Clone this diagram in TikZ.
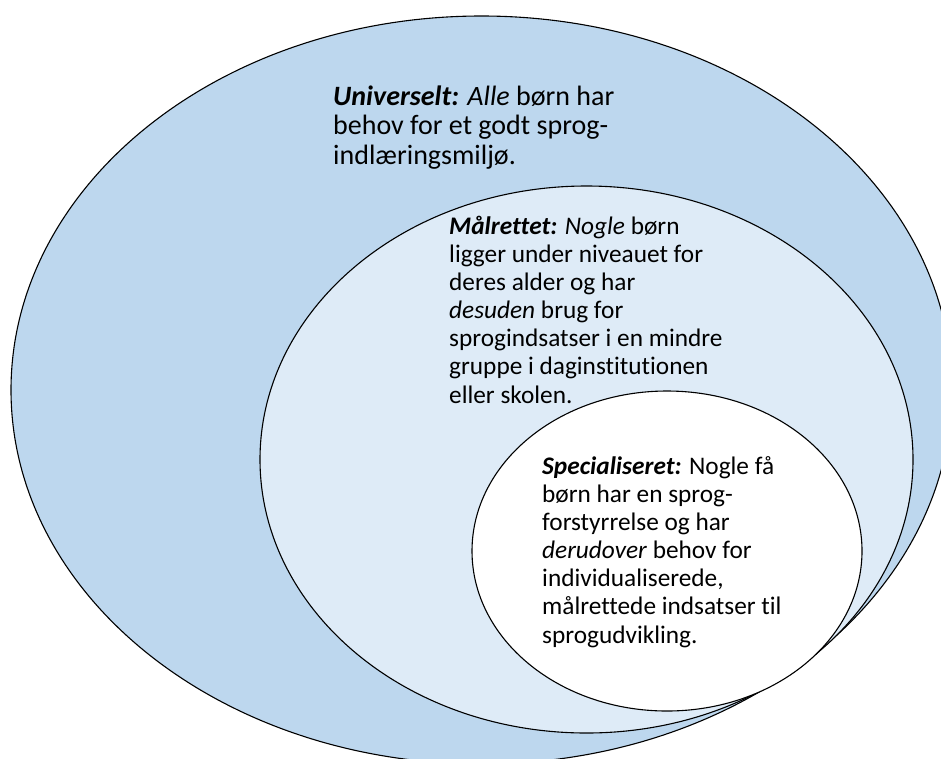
\documentclass[tikz,border=0pt]{standalone}
\usepackage{fontspec}
\setmainfont{Carlito}[Ligatures={TeX,NoCommon}]
\definecolor{outerblue}{RGB}{189, 215, 238}
\definecolor{midblue}{RGB}{222, 235, 247}
\usepackage{tikz}
\usetikzlibrary{positioning}

\begin{document}
\begin{tikzpicture}[x=1pt, y=-1pt,
    ring/.style={draw=black, line width=1.1pt},
    levtext/.style={anchor=base west, inner sep=0pt, align=left, font=\fontsize{25.3}{28.1}\selectfont}]
  % Frame
  \useasboundingbox (0, 0) rectangle (941, 758);
  \clip (0, 0) rectangle (941, 758);

  % Universal level
  \filldraw[ring, fill=outerblue] (481.5, 390) ellipse [x radius=470.5pt, y radius=374pt];
  % Targeted level
  \filldraw[ring, fill=midblue] (586.5, 459.5) ellipse [x radius=326.5pt, y radius=273.5pt];
  % Specialised level
  \filldraw[ring, fill=white] (667, 551) ellipse [x radius=195pt, y radius=160pt];

  % Texts (placed by the baseline of their last line)
  \node[levtext, font=\fontsize{28}{29.5}\selectfont] (univ) at (333, 164) {
    \textbf{\textit{Universelt:}} \textit{Alle} børn har\\
    behov for et godt sprog-\\
    indlæringsmiljø.
  };
  \node[levtext] (maal) at (449, 403) {
    \textbf{\textit{Målrettet:}} \textit{Nogle} børn\\
    ligger under niveauet for\\
    deres alder og har\\
    \textit{desuden} brug for\\
    sprogindsatser i en mindre\\
    gruppe i daginstitutionen\\
    eller skolen.
  };
  \node[levtext] (spec) at (542, 643) {
    \textbf{\textit{Specialiseret:}} Nogle få\\
    børn har en sprog-\\
    forstyrrelse og har\\
    \textit{derudover} behov for\\
    individualiserede,\\
    målrettede indsatser til\\
    sprogudvikling.
  };
\end{tikzpicture}
\end{document}
